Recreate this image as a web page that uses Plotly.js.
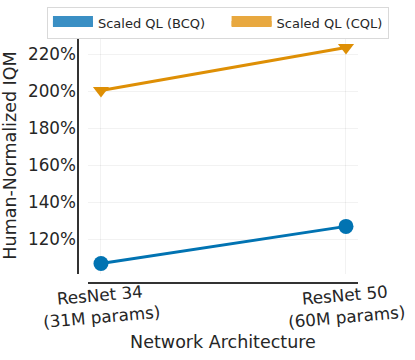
<!DOCTYPE html>
<html>
<head>
<meta charset="utf-8">
<script src="https://cdn.plot.ly/plotly-3.0.1.min.js"></script>
<style>
  html, body { margin: 0; padding: 0; background: #fff; }
  #chart { width: 415px; height: 360px; }
</style>
</head>
<body>
<div id="chart"></div>
<script>
// data
const architectures = ['ResNet 34<br>(31M params)', 'ResNet 50<br>(60M params)'];
const seriesNames = ['Scaled QL (BCQ)', 'Scaled QL (CQL)'];
const bcqIqm = [107.0, 127.0];
const cqlIqm = [200.3, 223.5];
const yTicks = [120, 140, 160, 180, 200, 220];
const yTickText = ['120%', '140%', '160%', '180%', '200%', '220%'];

const blue = '#0173b2';
const orange = '#de8f05';
const ink = '#262626';
const xIdx = architectures.map((a, i) => i);

// lines with markers (no legend entry)
var bcqLine = {
  x: xIdx, y: bcqIqm, type: 'scatter', mode: 'lines+markers',
  line: {color: blue, width: 3},
  marker: {color: blue, symbol: 'circle', size: 15},
  showlegend: false, hoverinfo: 'skip'
};
var cqlLine = {
  x: xIdx, y: cqlIqm, type: 'scatter', mode: 'lines+markers',
  line: {color: orange, width: 3},
  marker: {color: orange, symbol: 'triangle-down', size: 14},
  showlegend: false, hoverinfo: 'skip'
};

// legend patches (empty traces, just for the legend)
// nbsp padding widens the first entry like the matplotlib legend column gap
var bcqPatch = {
  x: [null], y: [null], type: 'scatter', mode: 'lines', fill: 'toself',
  line: {color: '#3a8fc4', width: 10}, fillcolor: '#3a8fc4',
  name: seriesNames[0] + '\u00a0'.repeat(4)
};
var cqlPatch = {
  x: [null], y: [null], type: 'scatter', mode: 'lines', fill: 'toself',
  line: {color: '#e8a83f', width: 10}, fillcolor: '#e8a83f',
  name: seriesNames[1]
};

var data = [bcqLine, cqlLine, bcqPatch, cqlPatch];

// tick labels are slightly tilted and centred on the tick
var tickAnnotations = architectures.map((label, i) => ({
  x: i, xref: 'x', y: -0.135, yref: 'paper',
  text: label, showarrow: false, textangle: -5,
  xanchor: 'center', yanchor: 'middle',
  font: {size: 16.8, color: ink}
}));

var layout = {
  width: 415, height: 360,
  margin: {l: 88, r: 57, t: 37, b: 86, autoexpand: false},
  paper_bgcolor: '#fff', plot_bgcolor: '#fff',
  font: {family: 'DejaVu Sans', size: 16.8, color: ink},
  xaxis: {
    range: [-0.053, 1.049],
    tickvals: xIdx, showticklabels: false,
    ticks: '',
    showline: false, zeroline: false,
    showgrid: true, gridcolor: 'rgba(0,0,0,0.05)', gridwidth: 1,
    title: {text: 'Network Architecture', font: {size: 17.5}, standoff: 61},
    automargin: false
  },
  yaxis: {
    range: [101.3, 229.2],
    tickvals: yTicks, ticktext: yTickText,
    ticks: '', ticklabelstandoff: 11,
    showline: false, zeroline: false,
    showgrid: true, gridcolor: 'rgba(0,0,0,0.05)', gridwidth: 1,
    title: {text: 'Human-Normalized IQM', font: {size: 17.5}, standoff: 8},
    automargin: false
  },
  annotations: tickAnnotations,
  // offset (despined) axis lines
  shapes: [
    {type: 'line', xref: 'paper', yref: 'paper', x0: -0.037, x1: -0.037, y0: 0, y1: 1,
     line: {color: '#333', width: 2}},
    {type: 'line', xref: 'paper', yref: 'paper', x0: 0, x1: 1, y0: -0.038, y1: -0.038,
     line: {color: '#333', width: 2}}
  ],
  legend: {
    orientation: 'h',
    x: -0.152, xanchor: 'left', y: 1.1266, yanchor: 'top',
    itemwidth: 40,
    bgcolor: '#fff', bordercolor: '#d9d9d9', borderwidth: 1,
    font: {size: 13, color: ink}
  }
};

var config = {staticPlot: true};

Plotly.newPlot('chart', data, layout, config);
</script>
</body>
</html>
